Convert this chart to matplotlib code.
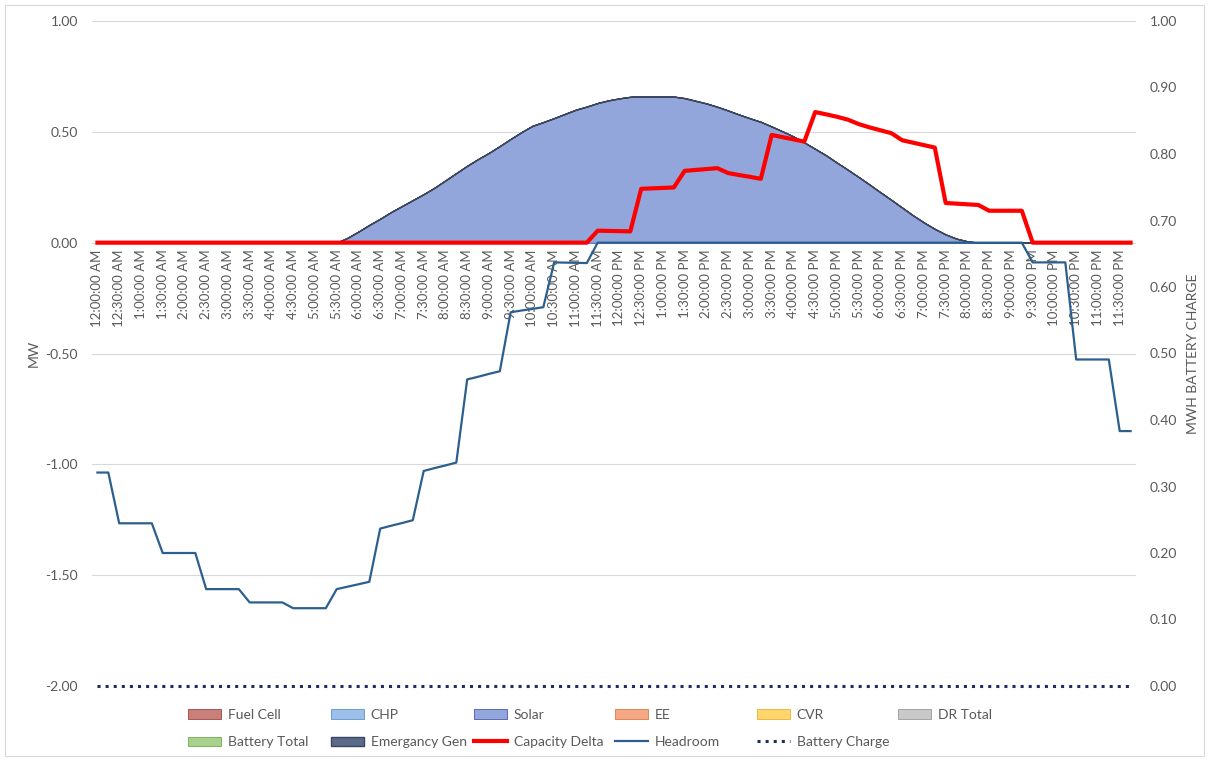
import matplotlib.pyplot as plt
import matplotlib.ticker as mticker
import numpy as np
import pandas as pd

plt.rcParams['font.family'] = ['Lato', 'DejaVu Sans']

# 15 minute steps, 12:00 AM .. 11:45 PM
times = pd.date_range('2020-01-01 00:00', periods=96, freq='15min')
time_labels = [t.strftime('%I:%M:%S %p').lstrip('0') for t in times]

# MW series (left axis)
solar = [0.0] * 23 + [
    0.022, 0.050, 0.080, 0.108, 0.138, 0.165, 0.192, 0.219, 0.248, 0.281,
    0.314, 0.347, 0.377, 0.405, 0.436, 0.468, 0.499, 0.527, 0.544, 0.562,
    0.581, 0.600, 0.614, 0.630, 0.642, 0.651, 0.658, 0.660, 0.660, 0.660,
    0.659, 0.652, 0.640, 0.628, 0.613, 0.596, 0.578, 0.561, 0.545, 0.524,
    0.502, 0.479, 0.452, 0.423, 0.394, 0.361, 0.329, 0.296, 0.262, 0.227,
    0.193, 0.158, 0.123, 0.091, 0.062, 0.037, 0.018, 0.006,
] + [0.0] * 15

capacity_delta = [0.0] * 46 + [
    0.054, 0.053, 0.052, 0.051,
    0.243, 0.245, 0.247, 0.249,
    0.324, 0.328, 0.332, 0.336,
    0.314, 0.305, 0.297, 0.288,
    0.486, 0.476, 0.466, 0.456,
    0.589, 0.579, 0.568, 0.555, 0.535, 0.520, 0.507, 0.494,
    0.462, 0.451, 0.440, 0.429,
    0.179, 0.176, 0.173, 0.170,
    0.144, 0.144, 0.144, 0.144,
] + [0.0] * 10

headroom = [
    -1.037, -1.037,
    -1.266, -1.266, -1.266, -1.266,
    -1.400, -1.400, -1.400, -1.400,
    -1.563, -1.563, -1.563, -1.563,
    -1.623, -1.623, -1.623, -1.623,
    -1.649, -1.649, -1.649, -1.649,
    -1.563, -1.552, -1.541, -1.530,
    -1.290, -1.277, -1.265, -1.252,
    -1.030, -1.017, -1.005, -0.992,
    -0.617, -0.605, -0.592, -0.580,
    -0.314, -0.306, -0.299, -0.291,
    -0.089, -0.090, -0.091, -0.092,
] + [0.0] * 40 + [
    -0.089, -0.089, -0.089, -0.089,
    -0.527, -0.527, -0.527, -0.527,
    -0.850, -0.850,
]

# sources with no output on this day
fuel_cell = [0.0] * 96
chp = [0.0] * 96
ee = [0.0] * 96
cvr = [0.0] * 96
dr_total = [0.0] * 96
battery_total = [0.0] * 96
emergency_gen = [0.0] * 96

# MWh (right axis)
battery_charge = [0.0] * 96

left_ticks = [-2.0, -1.5, -1.0, -0.5, 0.0, 0.5, 1.0]
right_ticks = [0.0, 0.1, 0.2, 0.3, 0.4, 0.5, 0.6, 0.7, 0.8, 0.9, 1.0]

area_labels = ['Fuel Cell', 'CHP', 'Solar', 'EE', 'CVR', 'DR Total',
               'Battery Total', 'Emergancy Gen']
area_colors = ['#C9807A', '#9DC0EA', '#93A6DC', '#F4A886',
               '#FFD66E', '#C9C9C9', '#A9D18E', '#5B6A88']
area_edges = ['#A8554E', '#6D9AD2', '#5A68B8', '#E58554',
              '#EDB83E', '#A3A3A3', '#7DB457', '#3B4660']

text_grey = '#595959'
W, H = 1209, 761

fig = plt.figure(figsize=(W / 100, H / 100), dpi=100)
ax = fig.add_axes([92 / W, 1 - 686 / H, (1136 - 92) / W, (686 - 21) / H])

x = np.arange(len(time_labels))

polys = ax.stackplot(x, fuel_cell, chp, solar, ee, cvr, dr_total,
                     battery_total, emergency_gen,
                     colors=area_colors, labels=area_labels)
for poly, ec in zip(polys, area_edges):
    poly.set_edgecolor(ec)
    poly.set_linewidth(0.7)
polys[-1].set_linewidth(1.0)

cap_line, = ax.plot(x, capacity_delta, color='#FF0000', lw=3,
                    label='Capacity Delta', zorder=4)
head_line, = ax.plot(x, headroom, color='#2C5F8E', lw=1.6,
                     label='Headroom', zorder=3)

ax.set_xlim(-0.5, len(x) - 0.5)
ax.set_ylim(-2, 1)
ax.yaxis.set_major_locator(mticker.FixedLocator(left_ticks))
ax.yaxis.set_major_formatter(mticker.FormatStrFormatter('%.2f'))
ax.grid(axis='y', color='#D9D9D9', lw=0.8)
ax.set_axisbelow(True)

ax.set_xticks(x[::2])
ax.set_xticklabels(time_labels[::2])
ax.spines['bottom'].set_position(('data', 0))
for s in ax.spines.values():
    s.set_visible(False)
ax.tick_params(axis='x', length=0, pad=5, labelsize=9.5,
               labelcolor=text_grey, labelrotation=90)
ax.tick_params(axis='y', length=0, pad=10, labelsize=10, labelcolor=text_grey)
ax.set_ylabel('MW', color=text_grey, fontsize=10, labelpad=4)

ax2 = ax.twinx()
batt_line, = ax2.plot(x, battery_charge, color='#1F2D5A', lw=2.2, ls=':',
                      label='Battery Charge', clip_on=False)
ax2.set_ylim(0, 1)
ax2.yaxis.set_major_locator(mticker.FixedLocator(right_ticks))
ax2.yaxis.set_major_formatter(mticker.FormatStrFormatter('%.2f'))
for s in ax2.spines.values():
    s.set_visible(False)
ax2.tick_params(axis='y', length=0, pad=10, labelsize=10, labelcolor=text_grey)
ax2.set_ylabel('MWH BATTERY CHARGE', color=text_grey, fontsize=10, labelpad=7)

# legend laid out like Excel: 6 evenly spaced columns, filled row by row
handles = dict(zip(area_labels, polys))
handles['Capacity Delta'] = cap_line
handles['Headroom'] = head_line
handles['Battery Charge'] = batt_line

legend_cols = [
    ['Fuel Cell', 'Battery Total'],
    ['CHP', 'Emergancy Gen'],
    ['Solar', 'Capacity Delta'],
    ['EE', 'Headroom'],
    ['CVR', 'Battery Charge'],
    ['DR Total'],
]
legend_x = [188, 331, 474, 615, 757, 898]
for col, px in zip(legend_cols, legend_x):
    fig.legend([handles[k] for k in col], col, loc='upper left',
               bbox_to_anchor=(px / W, 1 - 709 / H), frameon=False,
               fontsize=10, labelcolor=text_grey, handlelength=2.4,
               handleheight=0.7, handletextpad=0.45, labelspacing=1.1,
               borderpad=0, borderaxespad=0)

# chart area border
fig.add_artist(plt.Rectangle((5 / W, 5 / H), (W - 10) / W, (H - 10) / H,
                             transform=fig.transFigure, fill=False,
                             edgecolor='#D9D9D9', lw=0.8))

fig.savefig('out.png', dpi=100)
